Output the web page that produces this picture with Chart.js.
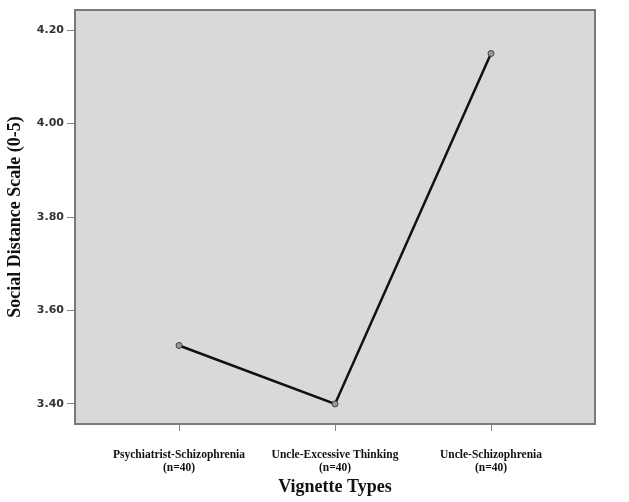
<!DOCTYPE html>
<html>
<head>
<meta charset="utf-8">
<script src="https://cdn.jsdelivr.net/npm/chart.js@4/dist/chart.umd.min.js"></script>
<style>
  html, body { margin: 0; padding: 0; background: #fff; }
  #wrap { width: 629px; height: 502px; }
</style>
</head>
<body>
<div id="wrap"><canvas id="c" width="629" height="502"></canvas></div>
<script>
const categories = [
  ['Psychiatrist-Schizophrenia', '(n=40)'],
  ['Uncle-Excessive Thinking', '(n=40)'],
  ['Uncle-Schizophrenia', '(n=40)'],
];
const means = [3.525, 3.40, 4.15];
const yTicks = [3.40, 3.60, 3.80, 4.00, 4.20];

const plotBg = {
  id: 'plotBg',
  beforeDraw(chart) {
    const { ctx, chartArea: a } = chart;
    ctx.save();
    ctx.fillStyle = '#d9d9d9';
    ctx.fillRect(a.left, a.top, a.right - a.left, a.bottom - a.top);
    ctx.restore();
  },
  afterDatasetsDraw(chart) {
    const { ctx, chartArea: a } = chart;
    ctx.save();
    ctx.strokeStyle = '#7a7a7a';
    ctx.lineWidth = 2;
    ctx.strokeRect(a.left, a.top, a.right - a.left, a.bottom - a.top);
    ctx.restore();
  },
};

new Chart(document.getElementById('c'), {
  type: 'line',
  data: {
    datasets: [{
      data: means.map((v, i) => ({ x: i, y: v })),
      borderColor: '#111',
      borderWidth: 2.5,
      pointRadius: 3,
      pointBackgroundColor: '#999',
      pointBorderColor: '#444',
      pointBorderWidth: 1,
      tension: 0,
    }],
  },
  options: {
    responsive: false,
    animation: false,
    layout: { padding: { top: 10, right: 34, left: 0, bottom: 4 } },
    plugins: { legend: { display: false }, tooltip: { enabled: false } },
    scales: {
      x: {
        type: 'linear',
        min: -2 / 3,
        max: 2 + 2 / 3,
        afterBuildTicks: (s) => { s.ticks = categories.map((c, i) => ({ value: i })); },
        afterFit: (s) => { s.height = 74; },
        grid: { drawOnChartArea: false, drawTicks: true, tickLength: 7, color: '#888' },
        border: { display: false },
        ticks: {
          callback: (v) => categories[v],
          color: '#111',
          font: { family: 'Liberation Serif', size: 11.5, weight: 'bold', lineHeight: 1.15 },
          padding: 17,
          maxRotation: 0,
        },
        title: {
          display: true,
          text: 'Vignette Types',
          color: '#111',
          font: { family: 'Liberation Serif', size: 18, weight: 'bold' },
          padding: { top: 2, bottom: 0 },
        },
      },
      y: {
        min: 3.357,
        max: 4.243,
        afterBuildTicks: (s) => { s.ticks = yTicks.map((v) => ({ value: v })); },
        afterFit: (s) => { s.width = 75; },
        grid: { drawOnChartArea: false, drawTicks: true, tickLength: 8, color: '#888' },
        border: { display: false },
        ticks: {
          callback: (v) => v.toFixed(2),
          color: '#333',
          font: { family: 'DejaVu Sans', size: 11, weight: 'bold' },
          padding: 3,
        },
        title: {
          display: true,
          text: 'Social Distance Scale (0-5)',
          color: '#111',
          font: { family: 'Liberation Serif', size: 18, weight: 'bold' },
          padding: { top: 5, bottom: 0 },
        },
      },
    },
  },
  plugins: [plotBg],
});
</script>
</body>
</html>
